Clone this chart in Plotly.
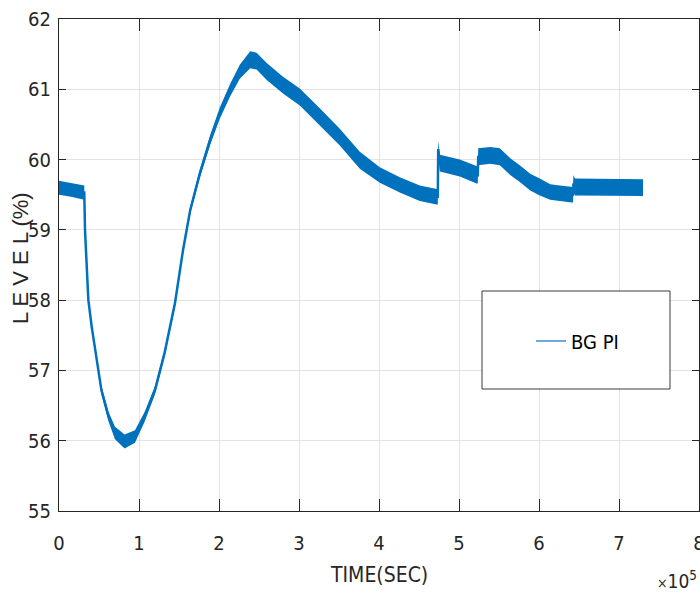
import plotly.graph_objects as go

# ---- data (time in units of 1e5 s, level in %) ----
TIME_E5 = [0.00, 0.15, 0.316, 0.325, 0.346, 0.367, 0.409, 0.45, 0.53, 0.62, 0.70, 0.82, 0.95,
           1.07, 1.20, 1.32, 1.45, 1.55, 1.64, 1.76, 1.89, 2.01, 2.14, 2.26, 2.39, 2.47,
           2.60, 2.80, 3.01, 3.26, 3.51, 3.76, 4.01, 4.26, 4.51, 4.72, 4.735, 4.74, 4.76,
           5.01, 5.22, 5.235, 5.24, 5.39, 5.51, 5.64, 5.76, 5.89, 6.01, 6.14, 6.26, 6.41,
           6.425, 6.43, 6.45, 7.30]
LEVEL = [59.60, 59.57, 59.53, 59.00, 58.57, 58.00, 57.62, 57.33, 56.72, 56.34, 56.11, 55.99, 56.06,
         56.34, 56.72, 57.25, 57.96, 58.71, 59.28, 59.80, 60.28, 60.66, 60.99, 61.25, 61.42, 61.40,
         61.25, 61.06, 60.89, 60.61, 60.32, 59.99, 59.78, 59.64, 59.52, 59.47, 59.47, 60.15, 59.95,
         59.88, 59.78, 59.78, 60.04, 60.06, 60.04, 59.90, 59.80, 59.68, 59.61, 59.54, 59.52, 59.50,
         59.50, 59.66, 59.61, 59.60]
NOISE_HALF = [0.10, 0.10, 0.10, 0.04, 0.04, 0.04, 0.05, 0.06, 0.06, 0.07, 0.09, 0.10, 0.09,
              0.07, 0.06, 0.05, 0.05, 0.05, 0.05, 0.06, 0.07, 0.08, 0.09, 0.10, 0.12, 0.12,
              0.12, 0.12, 0.12, 0.12, 0.12, 0.12, 0.11, 0.11, 0.11, 0.11, 0.11, 0.12, 0.12,
              0.12, 0.12, 0.12, 0.12, 0.12, 0.12, 0.12, 0.12, 0.12, 0.12, 0.11, 0.11, 0.11,
              0.11, 0.12, 0.12, 0.12]

SERIES_NAME = "BG PI"
X_TICKS = [0, 1, 2, 3, 4, 5, 6, 7, 8]
Y_TICKS = [55, 56, 57, 58, 59, 60, 61, 62]

BLUE = "#0072BD"
AX = "#262626"
NARROW = "Liberation Sans Narrow, Arial Narrow, DejaVu Sans Condensed, Liberation Sans, sans-serif"

upper = [v + n for v, n in zip(LEVEL, NOISE_HALF)]
lower = [v - n for v, n in zip(LEVEL, NOISE_HALF)]

fig = go.Figure()
# noise band
fig.add_trace(go.Scatter(
    x=TIME_E5 + TIME_E5[::-1], y=upper + lower[::-1],
    fill="toself", fillcolor=BLUE, line=dict(width=0, color=BLUE),
    mode="lines", showlegend=False, hoverinfo="skip"))
# centre line
fig.add_trace(go.Scatter(x=TIME_E5, y=LEVEL, mode="lines",
                         line=dict(color=BLUE, width=2.5), showlegend=False))
# legend entry
fig.add_trace(go.Scatter(x=[None], y=[None], mode="lines", name=SERIES_NAME,
                         line=dict(color="#3d8fd0", width=1.5), showlegend=True))

axis_common = dict(showline=True, linecolor=AX, linewidth=1, mirror="ticks",
                   ticks="inside", tickcolor=AX, tickwidth=1, automargin=False,
                   showgrid=True, gridcolor="#e3e3e3", gridwidth=1,
                   zeroline=False, tickfont=dict(family=NARROW, size=20, color=AX))

fig.update_xaxes(range=[0, 8], tickvals=X_TICKS, ticklen=12, ticklabelstandoff=14,
                 ticklabeloverflow="allow", **axis_common)
fig.update_yaxes(range=[55, 62], tickvals=Y_TICKS, ticklen=7, ticklabelstandoff=3, **axis_common)

fig.update_layout(
    width=700, height=596,
    margin=dict(l=59, r=1, t=19, b=85, autoexpand=False),
    plot_bgcolor="white", paper_bgcolor="white",
    showlegend=True,
    legend=dict(x=(531 - 59) / 640, y=(511 - 341) / 492, xanchor="left", yanchor="middle",
                bgcolor="rgba(0,0,0,0)", borderwidth=0,
                font=dict(family=NARROW, size=20, color="black")),
    shapes=[dict(type="rect", xref="paper", yref="paper",
                 x0=(482 - 59) / 640, x1=(670 - 59) / 640,
                 y0=(511 - 389) / 492, y1=(511 - 291) / 492,
                 line=dict(color="#3a3a3a", width=1), fillcolor="white", layer="above")],
    annotations=[
        dict(text="L E V E L (%)", xref="paper", yref="paper",
             x=(20 - 59) / 640, y=(511 - 258) / 492, xanchor="center", yanchor="middle",
             textangle=-90, showarrow=False,
             font=dict(family="Liberation Sans, Arial, sans-serif", size=22, color=AX)),
        dict(text="TIME(SEC)", xref="paper", yref="paper",
             x=(379 - 59) / 640, y=(511 - 575) / 492, xanchor="center", yanchor="middle",
             showarrow=False, font=dict(family=NARROW, size=21, color=AX)),
        dict(text="<span style='font-size:14px'>\u00d7</span>10<sup>5</sup>", xref="paper", yref="paper",
             x=1.0, y=(511 - 580) / 492, xanchor="right", yanchor="middle",
             showarrow=False, font=dict(family=NARROW, size=19, color=AX)),
    ],
)

fig.write_html("out.html")
